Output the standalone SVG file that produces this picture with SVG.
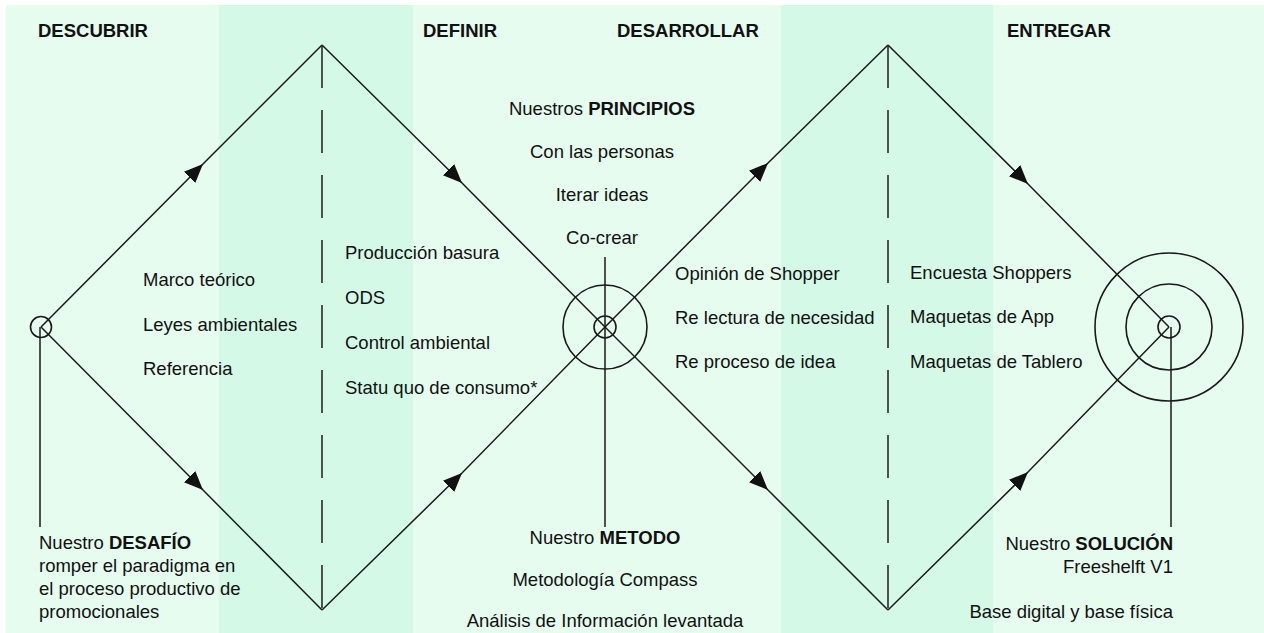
<svg xmlns="http://www.w3.org/2000/svg" width="1264" height="633" viewBox="0 0 1264 633">
<defs>
<style>
.t{font-family:"Liberation Sans",Arial,sans-serif;font-size:18.5px;fill:#111}
.b{font-weight:bold}
.c{text-anchor:middle}
.r{text-anchor:end}
.ln{fill:none;stroke:#1a1a1a;stroke-width:1.5}
.arr{fill:none;stroke:#1a1a1a;stroke-width:1.5;marker-mid:url(#ah)}
.dash{fill:none;stroke:#2a2a2a;stroke-width:1.6;stroke-dasharray:43 22}
.circ{fill:none;stroke:#1a1a1a;stroke-width:1.6}
</style>
<marker id="ah" markerUnits="userSpaceOnUse" markerWidth="22" markerHeight="20" viewBox="0 -10 22 20" refX="19" refY="0" orient="auto">
<path d="M0,-8 L19,0 L0,8 z" fill="#111"/>
</marker>
</defs>
<rect width="1264" height="633" fill="#ffffff"/>
<g id="bands">
<rect x="6" y="5" width="1258" height="628" fill="#e6fcef"/>
<rect x="219" y="5" width="194" height="628" fill="#d4f9e6"/>
<rect x="781" y="5" width="212" height="628" fill="#d4f9e6"/>
</g>
<g id="connectors">
<path class="arr" d="M41,327 L203,164 L322,45"/>
<path class="arr" d="M322,45 L462,183 L605,327"/>
<path class="arr" d="M41,327 L203,490 L322,610"/>
<path class="arr" d="M322,610 L462,473 L605,327"/>
<path class="arr" d="M605,327 L768,163 L888,45"/>
<path class="arr" d="M888,45 L1028,184 L1169,327"/>
<path class="arr" d="M605,327 L768,490 L888,610"/>
<path class="arr" d="M888,610 L1028,472 L1169,327"/>
<line class="dash" x1="322" y1="45" x2="322" y2="610"/>
<line class="dash" x1="888" y1="45" x2="888" y2="610"/>
<line class="ln" x1="40" y1="327" x2="40" y2="527"/>
<line class="ln" x1="605" y1="257" x2="605" y2="527"/>
<line class="ln" x1="1171" y1="327" x2="1171" y2="527"/>
</g>
<g id="start-node">
<circle class="circ" cx="41" cy="327" r="10.5"/>
</g>
<g id="center-node">
<circle class="circ" cx="605" cy="327" r="11"/>
<circle class="circ" cx="605" cy="327" r="42"/>
</g>
<g id="end-node">
<circle class="circ" cx="1169" cy="327" r="11"/>
<circle class="circ" cx="1169" cy="327" r="43"/>
<circle class="circ" cx="1169" cy="327" r="74"/>
</g>
<g id="headers">
<text class="t b" x="38" y="37">DESCUBRIR</text>
<text class="t b" x="423" y="37">DEFINIR</text>
<text class="t b" x="617" y="37">DESARROLLAR</text>
<text class="t b" x="1007" y="37">ENTREGAR</text>
</g>
<g id="principios">
<text class="t c" x="602" y="115">Nuestros <tspan class="b">PRINCIPIOS</tspan></text>
<text class="t c" x="602" y="158">Con las personas</text>
<text class="t c" x="602" y="201">Iterar ideas</text>
<text class="t c" x="602" y="244">Co-crear</text>
</g>
<g id="descubrir-items">
<text class="t" x="143" y="286">Marco teórico</text>
<text class="t" x="143" y="331">Leyes ambientales</text>
<text class="t" x="143" y="375">Referencia</text>
</g>
<g id="definir-items">
<text class="t" x="345" y="259">Producción basura</text>
<text class="t" x="345" y="304">ODS</text>
<text class="t" x="345" y="349">Control ambiental</text>
<text class="t" x="345" y="394">Statu quo de consumo*</text>
</g>
<g id="desarrollar-items">
<text class="t" x="675" y="280">Opinión de Shopper</text>
<text class="t" x="675" y="324">Re lectura de necesidad</text>
<text class="t" x="675" y="368">Re proceso de idea</text>
</g>
<g id="entregar-items">
<text class="t" x="910" y="279">Encuesta Shoppers</text>
<text class="t" x="910" y="323">Maquetas de App</text>
<text class="t" x="910" y="368">Maquetas de Tablero</text>
</g>
<g id="desafio">
<text class="t" x="39" y="549">Nuestro <tspan class="b">DESAFÍO</tspan></text>
<text class="t" x="39" y="572">romper el paradigma en</text>
<text class="t" x="39" y="595">el proceso productivo de</text>
<text class="t" x="39" y="618">promocionales</text>
</g>
<g id="metodo">
<text class="t c" x="605" y="544">Nuestro <tspan class="b">METODO</tspan></text>
<text class="t c" x="605" y="586">Metodología Compass</text>
<text class="t c" x="605" y="627">Análisis de Información levantada</text>
</g>
<g id="solucion">
<text class="t r" x="1173" y="550">Nuestro <tspan class="b">SOLUCIÓN</tspan></text>
<text class="t r" x="1173" y="573">Freeshelft V1</text>
<text class="t r" x="1173" y="618">Base digital y base física</text>
</g>
</svg>
